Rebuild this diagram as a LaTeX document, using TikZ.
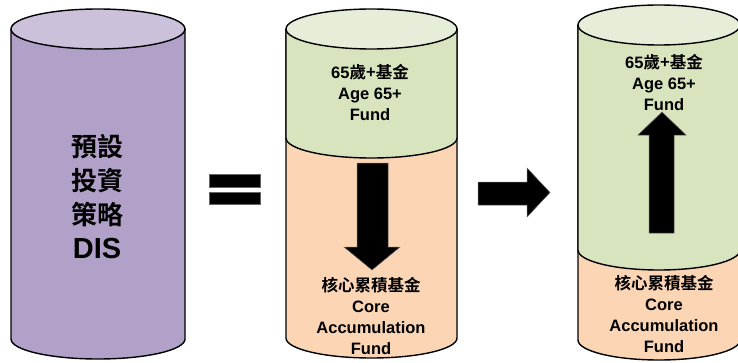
\documentclass[tikz,border=0pt]{standalone}
\usepackage{fontspec}
\setmainfont{Liberation Sans Bold}
\newfontfamily\cjk{Noto Sans CJK TC Bold}
\definecolor{lilac}{HTML}{B1A0C7}
\definecolor{lilactop}{HTML}{CCC1DA}
\definecolor{sage}{HTML}{D7E4BD}
\definecolor{sagetop}{HTML}{E6EDD8}
\definecolor{peach}{HTML}{FCD5B5}
\begin{document}
\begin{tikzpicture}[x=1pt,y=1pt]
\tikzstyle{rim}=[draw=black,line width=1.4pt]
\tikzstyle{block}=[fill=black,draw=black!60,line width=0.5pt]
\tikzstyle{every node}=[align=center,inner sep=0pt,font=\fontsize{16.5}{21}\selectfont]
\useasboundingbox (0,0) rectangle (738,362);

% DIS cylinder
\path[rim,fill=lilac] (11,333) -- (11,23) arc[start angle=180,end angle=360,x radius=87,y radius=20] -- (185,333);
\draw[rim,fill=lilactop] (98,333) ellipse [x radius=87,y radius=20];

% equals
\filldraw[block] (209,175) rectangle (260,188);
\filldraw[block] (209,158) rectangle (260,170);

% middle cylinder
\path[rim,fill=peach] (286,333) -- (286,24) arc[start angle=180,end angle=360,x radius=85.5,y radius=20] -- (457,333);
\path[rim,fill=sage] (286,333) -- (286,224) arc[start angle=180,end angle=360,x radius=85.5,y radius=20] -- (457,333);
\draw[rim,fill=sagetop] (371.5,333) ellipse [x radius=85.5,y radius=20];
\filldraw[block] (357,199) -- (357,115) -- (344,115) -- (372,92) -- (400,115) -- (388,115) -- (388,199) -- cycle;

% arrow between
\filldraw[block] (478,157) -- (478,180) -- (527,180) -- (527,194) -- (550,169.5) -- (527,145) -- (527,157) -- cycle;

% right cylinder
\path[rim,fill=peach] (578,337) -- (578,22) arc[start angle=180,end angle=360,x radius=81,y radius=20] -- (740,337);
\path[rim,fill=sage] (578,337) -- (578,112) arc[start angle=180,end angle=360,x radius=81,y radius=20] -- (740,337);
\draw[rim,fill=sagetop] (659,337) ellipse [x radius=81,y radius=20];
\filldraw[block] (649,129) -- (649,227) -- (638,227) -- (662,250) -- (686,227) -- (674,227) -- (674,129) -- cycle;

% labels
\node[font=\fontsize{26}{34}\selectfont] (dis) at (97,165) {{\cjk 預設}\\{\cjk 投資}\\{\cjk 策略}\\{\fontsize{29}{34}\selectfont DIS}};
\node (agefund) at (370,270) {65{\cjk 歲+基金}\\Age 65+\\Fund};
\node (corefund) at (371,46) {{\cjk 核心累積基金}\\Core\\Accumulation\\Fund};
\node (agefund2) at (664,280) {65{\cjk 歲+基金}\\Age 65+\\Fund};
\node (corefund2) at (664,48) {{\cjk 核心累積基金}\\Core\\Accumulation\\Fund};
\end{tikzpicture}
\end{document}
